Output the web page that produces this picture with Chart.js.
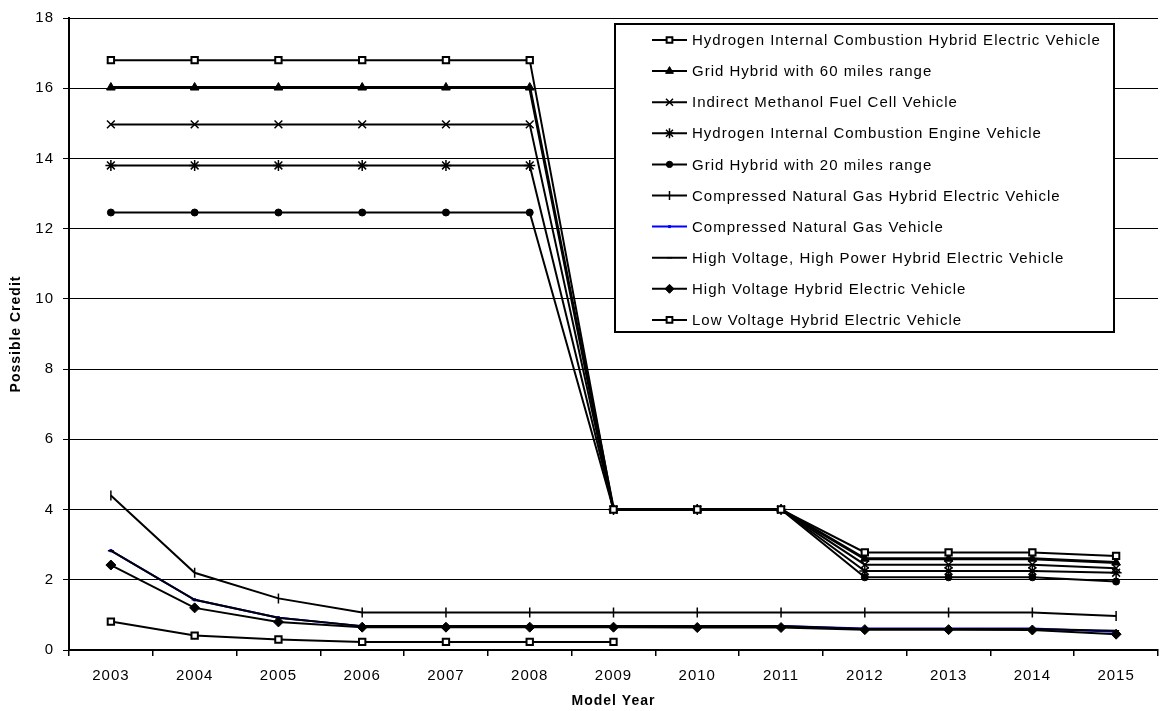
<!DOCTYPE html>
<html>
<head>
<meta charset="utf-8">
<script src="https://cdn.jsdelivr.net/npm/chart.js@4/dist/chart.umd.min.js"></script>
<style>
  html, body { margin: 0; padding: 0; background: #fff; overflow: hidden; }
  #wrap { width: 1165px; height: 711px; }
</style>
</head>
<body>
<div id="wrap"><canvas id="c" width="1165" height="711"></canvas></div>
<script>
const years = ['2003','2004','2005','2006','2007','2008','2009','2010','2011','2012','2013','2014','2015'];
const yTicks = [0, 2, 4, 6, 8, 10, 12, 14, 16, 18];

const seriesNames = [
  'Hydrogen Internal Combustion Hybrid Electric Vehicle',
  'Grid Hybrid with 60 miles range',
  'Indirect Methanol Fuel Cell Vehicle',
  'Hydrogen Internal Combustion Engine Vehicle',
  'Grid Hybrid with 20 miles range',
  'Compressed Natural Gas Hybrid Electric Vehicle',
  'Compressed Natural Gas Vehicle',
  'High Voltage, High Power Hybrid Electric Vehicle',
  'High Voltage Hybrid Electric Vehicle',
  'Low Voltage Hybrid Electric Vehicle'
];

const h2IceHev   = [16.8, 16.8, 16.8, 16.8, 16.8, 16.8, 4, 4, 4, 2.78, 2.78, 2.78, 2.68];
const grid60     = [16.02, 16.02, 16.02, 16.02, 16.02, 16.02, 4, 4, 4, 2.6, 2.6, 2.6, 2.49];
const methanolFc = [14.97, 14.97, 14.97, 14.97, 14.97, 14.97, 4, 4, 4, 2.43, 2.43, 2.43, 2.33];
const h2Ice      = [13.8, 13.8, 13.8, 13.8, 13.8, 13.8, 4, 4, 4, 2.25, 2.25, 2.25, 2.2];
const grid20     = [12.46, 12.46, 12.46, 12.46, 12.46, 12.46, 4, 4, 4, 2.07, 2.07, 2.07, 1.95];
const cngHev     = [4.4, 2.2, 1.47, 1.07, 1.07, 1.07, 1.07, 1.07, 1.07, 1.07, 1.07, 1.07, 0.97];
const cngVeh     = [2.83, 1.43, 0.92, 0.68, 0.68, 0.68, 0.68, 0.68, 0.68, 0.61, 0.61, 0.61, 0.52];
const hvHpHev    = [2.83, 1.43, 0.92, 0.68, 0.68, 0.68, 0.68, 0.68, 0.68, 0.6, 0.6, 0.6, 0.55];
const hvHev      = [2.42, 1.2, 0.8, 0.65, 0.65, 0.65, 0.65, 0.64, 0.64, 0.58, 0.58, 0.57, 0.45];
const lvHev      = [0.81, 0.41, 0.3, 0.23, 0.23, 0.23, 0.23, null, null, null, null, null, null];

const seriesValues = [h2IceHev, grid60, methanolFc, h2Ice, grid20, cngHev, cngVeh, hvHpHev, hvHev, lvHev];

const styles = [
  { color: '#000', width: 2, pointStyle: 'rect', radius: 4.5, bg: '#fff', bw: 2, rot: 0 },
  { color: '#000', width: 3, pointStyle: 'triangle', radius: 5, bg: '#000', bw: 1, rot: 0 },
  { color: '#000', width: 2, pointStyle: 'crossRot', radius: 5.5, bg: '#000', bw: 1.5, rot: 0 },
  { color: '#000', width: 2, pointStyle: 'star', radius: 5.5, bg: '#000', bw: 1.5, rot: 0 },
  { color: '#000', width: 2, pointStyle: 'circle', radius: 3.5, bg: '#000', bw: 1, rot: 0 },
  { color: '#000', width: 2, pointStyle: 'line', radius: 5, bg: '#000', bw: 1.5, rot: 90 },
  { color: '#0000ff', width: 2, pointStyle: 'rect', radius: 1.6, bg: '#0000ff', bw: 1, rot: 0, order: 1 },
  { color: '#000', width: 2, pointStyle: 'line', radius: 3, bg: '#000', bw: 1.5, rot: 0 },
  { color: '#000', width: 2, pointStyle: 'rectRot', radius: 5, bg: '#000', bw: 1, rot: 0 },
  { color: '#000', width: 2, pointStyle: 'rect', radius: 4.5, bg: '#fff', bw: 2, rot: 0 }
];

const datasets = seriesNames.map((name, i) => ({
  label: name,
  data: seriesValues[i],
  borderColor: styles[i].color,
  backgroundColor: styles[i].bg,
  borderWidth: styles[i].width,
  pointStyle: styles[i].pointStyle,
  pointRadius: styles[i].radius,
  pointHoverRadius: styles[i].radius,
  pointBorderWidth: styles[i].bw,
  pointBorderColor: styles[i].color,
  pointBackgroundColor: styles[i].bg,
  pointRotation: styles[i].rot,
  tension: 0,
  spanGaps: false,
  order: styles[i].order || 0
}));

const FONT = '"Liberation Sans", Arial, sans-serif';

const spacingPlugin = {
  id: 'spacing',
  beforeDraw(chart) { chart.ctx.letterSpacing = '1px'; },
  beforeUpdate(chart) { chart.ctx.letterSpacing = '1px'; }
};

const legendPlugin = {
  id: 'boxLegend',
  afterDraw(chart) {
    const ctx = chart.ctx;
    ctx.save();
    const bx = 615, by = 24, bw = 499, bh = 308;
    ctx.fillStyle = '#fff';
    ctx.fillRect(bx, by, bw, bh);
    ctx.strokeStyle = '#000';
    ctx.lineWidth = 2;
    ctx.strokeRect(bx, by, bw, bh);
    ctx.font = '15px ' + FONT;
    ctx.letterSpacing = '1px';
    ctx.textBaseline = 'middle';
    ctx.textAlign = 'left';
    seriesNames.forEach((name, i) => {
      const y = 40 + i * 31.1;
      const s = styles[i];
      ctx.strokeStyle = s.color;
      ctx.lineWidth = Math.min(s.width, 2);
      ctx.beginPath();
      ctx.moveTo(652, y);
      ctx.lineTo(687, y);
      ctx.stroke();
      ctx.fillStyle = s.bg;
      ctx.strokeStyle = s.color;
      ctx.lineWidth = s.bw;
      Chart.helpers.drawPoint(ctx, {
        pointStyle: s.pointStyle,
        radius: s.radius * 0.9,
        rotation: s.rot,
        borderWidth: s.bw
      }, 669.5, y);
      ctx.fillStyle = '#000';
      ctx.fillText(name, 692, y + 1);
    });
    ctx.restore();
  }
};

new Chart(document.getElementById('c'), {
  type: 'line',
  data: { labels: years, datasets },
  plugins: [spacingPlugin, legendPlugin],
  options: {
    responsive: false,
    animation: false,
    devicePixelRatio: 1,
    layout: { padding: { top: 11, left: 0, right: 0, bottom: 0 } },
    plugins: { legend: { display: false }, tooltip: { enabled: false } },
    scales: {
      x: {
        type: 'category',
        offset: true,
        grid: { display: true, drawOnChartArea: false, drawTicks: true, tickLength: 6, offset: true, color: '#000', lineWidth: 1.5 },
        border: { display: true, color: '#000', width: 2 },
        ticks: { color: '#000', font: { family: FONT, size: 15 }, padding: 11, maxRotation: 0, autoSkip: false },
        title: { display: true, text: 'Model Year', color: '#000', font: { family: FONT, size: 14, weight: 'bold' }, padding: { top: 0, bottom: 1 } },
        afterFit(scale) { scale.height = 61; }
      },
      y: {
        min: 0, max: 18,
        afterBuildTicks(scale) { scale.ticks = yTicks.map(v => ({ value: v })); },
        grid: { color: '#000', lineWidth: 1, drawTicks: true, tickLength: 6 },
        border: { display: true, color: '#000', width: 2 },
        ticks: { color: '#000', font: { family: FONT, size: 15 }, padding: 9 },
        title: { display: true, text: 'Possible Credit', color: '#000', font: { family: FONT, size: 14, weight: 'bold' }, padding: { top: 8, bottom: 0 } },
        afterFit(scale) { scale.width = 69; }
      }
    }
  }
});
</script>
</body>
</html>
